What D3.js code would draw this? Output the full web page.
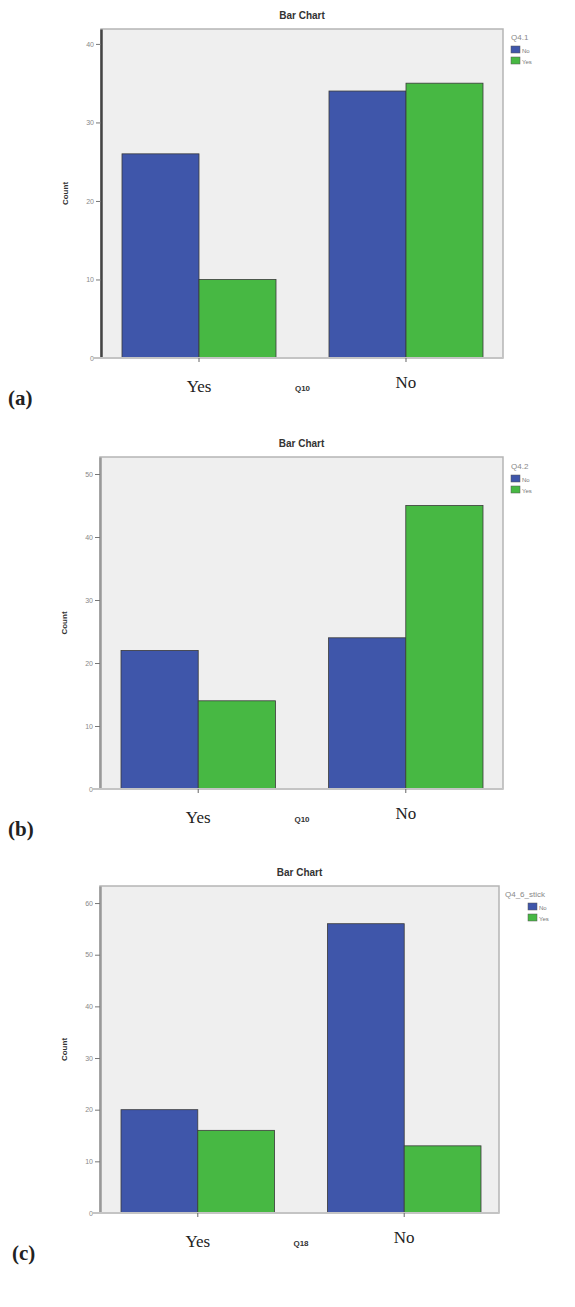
<!DOCTYPE html>
<html><head><meta charset="utf-8">
<script src="https://cdn.jsdelivr.net/npm/d3@7"></script>
<style>body{margin:0;background:#fff}svg{display:block}</style>
</head><body>
<svg id="c" width="575" height="1307"></svg>
<script>
const categories = ["Yes", "No"];
const seriesNames = ["No", "Yes"];
// values per panel: [series No, series Yes] for each category Yes, No
const panelA_No = [26, 34];
const panelA_Yes = [10, 35];
const panelB_No = [22, 24];
const panelB_Yes = [14, 45];
const panelC_No = [20, 56];
const panelC_Yes = [16, 13];
const ticksA = [0, 10, 20, 30, 40];
const ticksB = [0, 10, 20, 30, 40, 50];
const ticksC = [0, 10, 20, 30, 40, 50, 60];
const legendTitles = ["Q4.1", "Q4.2", "Q4_6_stick"];
const xTitles = ["Q10", "Q10", "Q18"];
const panelLabels = ["(a)", "(b)", "(c)"];

const colors = ["#3f56aa", "#47b843"];

const panels = [
  {no: panelA_No, yes: panelA_Yes, ticks: ticksA, max: 41.9, top: 29, bottom: 358, left: 101, right: 503, bx: [122, 483], legX: 511, legY: 40},
  {no: panelB_No, yes: panelB_Yes, ticks: ticksB, max: 52.7, top: 457, bottom: 789, left: 100, right: 503, bx: [121, 483], legX: 511, legY: 469},
  {no: panelC_No, yes: panelC_Yes, ticks: ticksC, max: 63.3, top: 886, bottom: 1213, left: 100, right: 499, bx: [121, 481], legX: 505, legY: 897}
];

const svg = d3.select("#c");

panels.forEach((p, i) => {
  const g = svg.append("g");
  const y = d3.scaleLinear().domain([0, p.max]).range([p.bottom, p.top]);
  const x = d3.scaleBand().domain(categories).range(p.bx).paddingInner(0.256).paddingOuter(0);
  const xs = d3.scaleBand().domain(seriesNames).range([0, x.bandwidth()]);

  // title
  g.append("text").attr("x", (p.left + p.right) / 2).attr("y", p.top - 10)
    .attr("text-anchor", "middle").attr("font-family", "Liberation Sans, Arial, sans-serif")
    .attr("font-size", 10).attr("font-weight", "bold").attr("fill", "#333").text("Bar Chart");

  // plot background
  g.append("rect").attr("x", p.left).attr("y", p.top).attr("width", p.right - p.left).attr("height", p.bottom - p.top)
    .attr("fill", "#efefef").attr("stroke", "#b5b5b5").attr("stroke-width", 1.5);

  // bars
  const rows = categories.map((c, ci) => ({cat: c, vals: [p.no[ci], p.yes[ci]]}));
  rows.forEach(r => {
    r.vals.forEach((v, si) => {
      g.append("rect")
        .attr("x", x(r.cat) + xs(seriesNames[si]))
        .attr("y", y(v))
        .attr("width", xs.bandwidth())
        .attr("height", y(0) - y(v))
        .attr("fill", colors[si])
        .attr("stroke", "#3a3a3a").attr("stroke-width", 0.8);
    });
  });

  // y axis
  const yAxis = d3.axisLeft(y).tickValues(p.ticks).tickSize(5).tickPadding(2).tickSizeOuter(0);
  const ya = g.append("g").attr("transform", `translate(${p.left},0)`).call(yAxis);
  ya.select(".domain").attr("stroke", i === 0 ? "#444" : "#999").attr("stroke-width", 2.5);
  ya.selectAll(".tick line").attr("stroke", "#777");
  ya.selectAll(".tick text").attr("font-family", "Liberation Sans, Arial, sans-serif").attr("font-size", 7).attr("fill", "#888");

  // bottom axis baseline
  g.append("line").attr("x1", p.left - 8).attr("x2", p.right).attr("y1", p.bottom).attr("y2", p.bottom)
    .attr("stroke", "#c4c4c4").attr("stroke-width", 2);

  // x axis ticks at group centers
  const xa = g.append("g").attr("transform", `translate(0,${p.bottom})`)
    .call(d3.axisBottom(x).tickSize(4).tickSizeOuter(0).tickFormat(""));
  xa.select(".domain").remove();
  xa.selectAll(".tick line").attr("stroke", "#666");

  // category labels (serif)
  categories.forEach((c, ci) => {
    g.append("text").attr("x", x(c) + x.bandwidth() / 2).attr("y", p.bottom + (c === "Yes" ? 34 : 30))
      .attr("text-anchor", "middle").attr("font-family", "Liberation Serif, Times New Roman, serif")
      .attr("font-size", 17).attr("fill", "#222").text(c);
  });

  // x title
  g.append("text").attr("x", (x("Yes") + x.bandwidth() + x("No")) / 2 + 0).attr("y", p.bottom + 33)
    .attr("text-anchor", "middle").attr("font-family", "Liberation Sans, Arial, sans-serif")
    .attr("font-size", 8).attr("font-weight", "bold").attr("fill", "#333").text(xTitles[i]);

  // y title
  g.append("text").attr("transform", `translate(${p.left - 33},${(p.top + p.bottom) / 2}) rotate(-90)`)
    .attr("text-anchor", "middle").attr("font-family", "Liberation Sans, Arial, sans-serif")
    .attr("font-size", 8).attr("font-weight", "bold").attr("fill", "#333").text("Count");

  // panel label
  g.append("text").attr("x", i === 2 ? 12 : 8).attr("y", p.bottom + 47)
    .attr("font-family", "Liberation Serif, Times New Roman, serif")
    .attr("font-size", 21).attr("font-weight", "bold").attr("fill", "#222").text(panelLabels[i]);

  // legend
  const lg = g.append("g").attr("transform", `translate(${p.legX},${p.legY})`);
  lg.append("text").attr("x", 0).attr("y", 0).attr("font-family", "Liberation Sans, Arial, sans-serif")
    .attr("font-size", 8).attr("fill", "#888").text(legendTitles[i]);
  const sx = i === 2 ? 23 : 0;
  seriesNames.forEach((s, si) => {
    lg.append("rect").attr("x", sx).attr("y", 6 + si * 11).attr("width", 9).attr("height", 7)
      .attr("fill", colors[si]).attr("stroke", "#555").attr("stroke-width", 0.5);
    lg.append("text").attr("x", sx + 11).attr("y", 12.5 + si * 11).attr("font-family", "Liberation Sans, Arial, sans-serif")
      .attr("font-size", 6).attr("fill", "#777").text(s);
  });
});
</script>
</body></html>
